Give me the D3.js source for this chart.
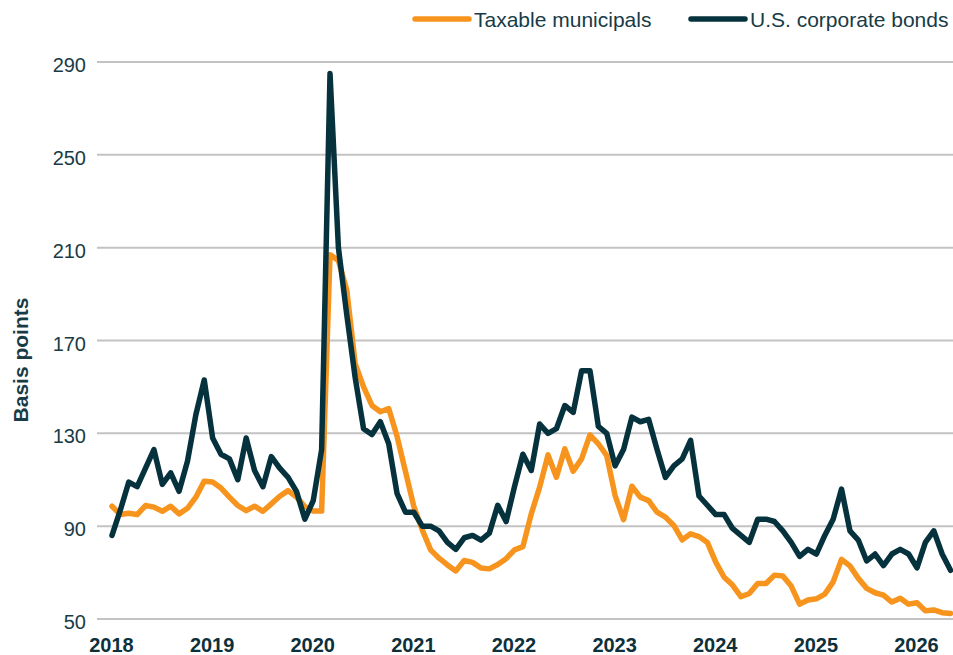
<!DOCTYPE html>
<html>
<head>
<meta charset="utf-8">
<script src="https://cdn.jsdelivr.net/npm/d3@7"></script>
<style>
  html, body { margin: 0; padding: 0; background: #ffffff; }
  svg { display: block; font-family: "Liberation Sans", Arial, sans-serif; }
</style>
</head>
<body>
<svg id="chart" width="953" height="655"></svg>
<script>
// Monthly spreads, Jan 2018 onward (basis points)
const startYear = 2018;
const taxableMunicipals = [
  98.6, 95, 95.6, 95, 98.9, 98.2, 96.4, 98.6, 95.3, 97.7, 102.5, 109.4,
  109, 106.4, 102.5, 98.9, 96.7, 98.6, 96.4, 99.6, 102.9, 105.3, 102.5, 98.4,
  96.5, 96.5, 207, 204.5, 191.7, 160, 150, 142, 139.3, 140.7, 128.6, 113.5,
  98.4, 88.4, 79.8, 76.2, 73.3, 70.7, 75.2, 74.4, 72, 71.6, 73.5, 76,
  79.8, 81.2, 95.3, 106.8, 120.7, 111.1, 123.3, 113.7, 119, 129.3, 125.5, 120.4,
  103.2, 92.8, 107.2, 102.5, 101, 96, 93.9, 90.3, 84.1, 86.7, 85.5, 83,
  74.5, 68, 64.6, 59.6, 61, 65.3, 65.3, 68.9, 68.5, 64.2, 56.4, 58.2,
  58.7, 60.7, 66, 75.7, 72.9, 67.5, 63.2, 61.3, 60.3, 57.3, 58.9, 56.4,
  57, 53.6, 53.9, 52.7, 52.4
];
const corporateBonds = [
  86, 97, 109, 107, 115, 123, 108, 113, 105, 118, 138, 153,
  128, 121, 119, 110, 128, 114, 107, 120, 115, 111, 105, 93,
  101, 123, 285, 210, 181, 154, 132, 129.5, 135, 125.5, 104, 96,
  96, 90, 90, 88, 83, 80, 85, 86, 84, 87, 99, 92,
  107, 121, 114, 134, 130, 132, 142, 139, 157, 157, 133, 130,
  116, 123, 137, 135, 136, 123, 111, 116, 119, 127, 103, 99,
  95, 95, 89, 86, 83, 93, 93, 92, 88, 83, 77, 80,
  78, 86, 93, 106, 88, 84, 75, 78, 73, 78, 80, 78,
  72, 83, 88, 78, 71
];
const yTicks = [50, 90, 130, 170, 210, 250, 290];
const yearTicks = [2018, 2019, 2020, 2021, 2022, 2023, 2024, 2025, 2026];
const seriesNames = ["Taxable municipals", "U.S. corporate bonds"];
const seriesColors = ["#f7941d", "#06323d"];

const svg = d3.select("#chart");
const textColor = "#183b46";

// Scales: x runs over month index, y over basis points
const x = d3.scaleLinear().domain([0, 96]).range([112, 917]);
const y = d3.scaleLinear().domain([50, 290]).range([619, 62]);

// Horizontal gridlines
svg.append("g")
  .selectAll("line")
  .data(yTicks)
  .join("line")
  .attr("x1", 97).attr("x2", 953)
  .attr("y1", d => y(d)).attr("y2", d => y(d))
  .attr("stroke", "#c3c3c3")
  .attr("stroke-width", 2);

// Y axis labels
const yAxis = d3.axisLeft(y).tickValues(yTicks).tickSize(0).tickPadding(0);
svg.append("g")
  .attr("transform", "translate(86,0)")
  .call(yAxis)
  .call(g => g.select(".domain").remove())
  .call(g => g.selectAll("text")
    .attr("dy", "0.48em")
    .attr("fill", textColor)
    .attr("font-size", 20)
    .attr("font-family", "Liberation Sans, Arial, sans-serif"));

// X axis year labels
const xAxis = d3.axisBottom(x)
  .tickValues(yearTicks.map(yr => (yr - startYear) * 12))
  .tickFormat(v => String(startYear + v / 12))
  .tickSize(0).tickPadding(0);
svg.append("g")
  .attr("transform", "translate(-1,0)")
  .call(xAxis)
  .call(g => g.select(".domain").remove())
  .call(g => g.selectAll("text")
    .attr("y", 652)
    .attr("dy", 0)
    .attr("fill", "#0d303b")
    .attr("font-size", 20)
    .attr("font-weight", "bold")
    .attr("font-family", "Liberation Sans, Arial, sans-serif"));

// Y axis title
svg.append("text")
  .attr("transform", "translate(28,360) rotate(-90)")
  .attr("text-anchor", "middle")
  .attr("fill", textColor)
  .attr("font-size", 21)
  .attr("font-weight", "bold")
  .text("Basis points");

// Series lines
const line = d3.line()
  .x((d, i) => x(i))
  .y(d => y(d));

[taxableMunicipals, corporateBonds].forEach((values, k) => {
  svg.append("path")
    .datum(values)
    .attr("fill", "none")
    .attr("stroke", seriesColors[k])
    .attr("stroke-width", 5.5)
    .attr("stroke-linejoin", "round")
    .attr("stroke-linecap", "round")
    .attr("d", line);
});

// Legend
const legendX = [415, 691];
const legend = svg.append("g");
seriesNames.forEach((name, k) => {
  legend.append("line")
    .attr("x1", legendX[k]).attr("x2", legendX[k] + 54)
    .attr("y1", 19).attr("y2", 19)
    .attr("stroke", seriesColors[k])
    .attr("stroke-width", 5.5)
    .attr("stroke-linecap", "round");
  legend.append("text")
    .attr("x", legendX[k] + 59)
    .attr("y", 26.5)
    .attr("fill", textColor)
    .attr("font-size", 21)
    .text(name);
});
</script>
</body>
</html>
